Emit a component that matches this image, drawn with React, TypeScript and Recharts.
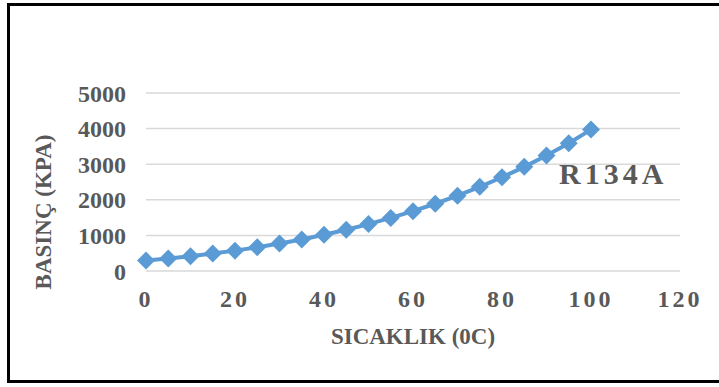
import React from "react";
import { LineChart, Line, XAxis, YAxis, CartesianGrid, Label, ReferenceDot } from "recharts";

const temps = [0, 5, 10, 15, 20, 25, 30, 35, 40, 45, 50, 55, 60, 65, 70, 75, 80, 85, 90, 95, 100];
const pressures = [293, 350, 415, 489, 572, 666, 771, 887, 1017, 1160, 1318, 1491, 1681, 1889, 2116, 2364, 2633, 2926, 3244, 3591, 3972];
const xTicks = [0, 20, 40, 60, 80, 100, 120];
const yTicks = [0, 1000, 2000, 3000, 4000, 5000];
const seriesName = "R134A";

const data = temps.map((t, i) => ({ t, p: pressures[i] }));

const font = "'Liberation Serif', 'Times New Roman', serif";
const gray = "#595959";
const blue = "#5B9BD5";

const Diamond = (props: any) => {
  const { cx, cy } = props;
  if (cx == null || cy == null) return null;
  const s = 9;
  return <polygon points={`${cx},${cy - s} ${cx + s},${cy} ${cx},${cy + s} ${cx - s},${cy}`} fill={blue} />;
};

export default function App() {
  return (
    <div style={{ position: "absolute", left: 0, top: 0, width: 719, height: 387, background: "#fff", overflow: "hidden" }}>
      <div
        style={{
          position: "absolute",
          left: 7,
          top: 3,
          width: 720,
          height: 374,
          borderLeft: "3px solid #000",
          borderTop: "3px solid #000",
          borderBottom: "3px solid #000",
        }}
      />
      <div style={{ position: "absolute", left: 0, top: 0 }}>
        <LineChart width={719} height={387} data={data} margin={{ top: 93, right: 39, bottom: 76, left: 0 }}>
          <CartesianGrid vertical={false} stroke="#D9D9D9" strokeWidth={1.5} />
          <XAxis
            dataKey="t"
            type="number"
            domain={[0, 120]}
            ticks={xTicks}
            axisLine={false}
            tickLine={false}
            tickSize={0}
            tickMargin={19}
            height={40}
            tick={{ fill: gray, fontFamily: font, fontWeight: "bold", fontSize: 24, letterSpacing: 3 }}
          >
            <Label
              content={({ viewBox }: any) => (
                <text
                  x={viewBox.x + viewBox.width / 2}
                  y={viewBox.y + viewBox.height + 25}
                  textAnchor="middle"
                  dominantBaseline="central"
                  fill={gray}
                  fontFamily={font}
                  fontWeight="bold"
                  fontSize={23}
                >
                  SICAKLIK (0C)
                </text>
              )}
            />
          </XAxis>
          <YAxis
            type="number"
            domain={[0, 5000]}
            ticks={yTicks}
            width={146}
            axisLine={false}
            tickLine={false}
            tickSize={0}
            tickMargin={20}
            tick={{ fill: gray, fontFamily: font, fontWeight: "bold", fontSize: 24 }}
          >
            <Label
              content={({ viewBox }: any) => {
                const cx = 43;
                const cy = viewBox.y + viewBox.height / 2 + 30;
                return (
                  <text
                    x={cx}
                    y={cy}
                    transform={`rotate(-90, ${cx}, ${cy})`}
                    textAnchor="middle"
                    dominantBaseline="central"
                    fill={gray}
                    fontFamily={font}
                    fontWeight="bold"
                    fontSize={23}
                  >
                    BASINÇ (KPA)
                  </text>
                );
              }}
            />
          </YAxis>
          <Line
            dataKey="p"
            stroke={blue}
            strokeWidth={4}
            dot={<Diamond />}
            activeDot={false}
            isAnimationActive={false}
          />
          <ReferenceDot
            x={105}
            y={2750}
            r={0}
            ifOverflow="visible"
            label={{
              content: ({ viewBox }: any) => (
                <text
                  x={viewBox.x + (viewBox.width || 0) / 2}
                  y={viewBox.y + (viewBox.height || 0) / 2}
                  textAnchor="middle"
                  dominantBaseline="central"
                  fill={gray}
                  fontFamily={font}
                  fontWeight="bold"
                  fontSize={30}
                  letterSpacing={4}
                >
                  {seriesName}
                </text>
              ),
            }}
          />
        </LineChart>
      </div>
    </div>
  );
}
